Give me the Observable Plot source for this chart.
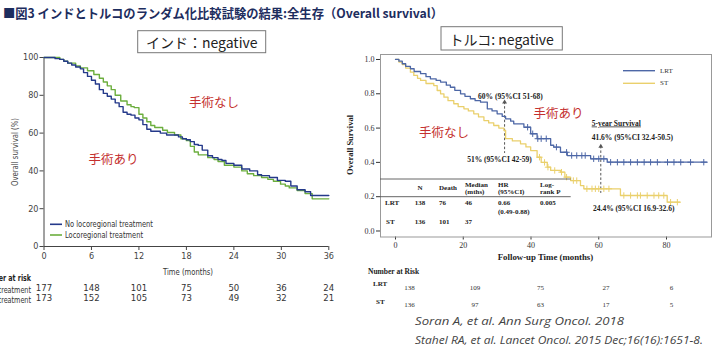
<!DOCTYPE html>
<html lang="ja"><head><meta charset="utf-8">
<script src="https://cdn.jsdelivr.net/npm/d3@7"></script>
<script src="https://cdn.jsdelivr.net/npm/@observablehq/plot@0.6"></script>
<style>
html,body{margin:0;padding:0;background:#fff;}
#wrap{position:relative;width:718px;height:357px;overflow:hidden;background:#fff;}
</style></head><body><div id="wrap"></div>
<script>
// ---------- India trial (left) ----------
const indiaSeries = ["No locoregional treatment", "Locoregional treatment"];
const indiaTicks = [0, 6, 12, 18, 24, 30, 36];
const indiaYTicks = [0, 20, 40, 60, 80, 100];
const indiaNoLrtTime = [0,1.4,2,2.5,3,3.5,4,4.6,5,5.5,6,6.5,7,7.5,8,8.5,9,9.5,10,10.5,11,11.5,12,12.5,13,13.5,14.7,15.5,17,17.5,18,18.5,19,19.5,20,20.7,21.3,22,22.5,23,24,25,26,27,27.5,28.5,29.5,30.5,31.2,32,33,33.7,36];
const indiaNoLrtSurv = [100,99.4,99,98,97,96,95,94,92,90,88,86,83,81,79.5,78,76,74,71,70,69.5,68,67,64.5,62,61,60,59,58,57,56.5,55.5,54,53.5,51,48,47,46,45.5,44,43,41,40,38,37.5,36.5,35,34.5,32,30,29,27,27];
const indiaLrtTime = [0,2,2.5,3,4,4.6,5.5,6.3,7,7.5,8,8.5,9,9.7,10.5,11,11.4,12,12.5,13,13.5,14,15,15.6,16.5,17.3,18,18.5,19,19.5,20.7,21.5,22,22.8,24,25,25.7,26.5,27.5,28.3,29,29.9,30.5,31,32,33,33.9,36];
const indiaLrtSurv = [100,99,98,97,95.5,94.5,93,91,89,87,85,83,80,77,75,74,73.5,70,68,66,64,63,61.5,60.3,59,57,56,53,50,48.5,47,46,45,43,42,40,38.5,37.5,36.5,35.5,34.5,33,32,31,29.6,28,25.2,25.2];
const indiaRiskMonths = [0, 6, 12, 18, 24, 30, 36];
const indiaRiskNoLrt = [177, 148, 101, 75, 50, 36, 24];
const indiaRiskLrt = [173, 152, 105, 73, 49, 32, 21];
const indiaNoteText = ["手術なし", "手術あり"];
const indiaNoteMonth = [21.5, 8.8];
const indiaNoteSurv = [75.8, 46];

// ---------- Turkey trial (right) ----------
const turkeySeries = ["LRT", "ST"];
const turkeyTicks = [0, 20, 40, 60, 80];
const turkeyYTicks = [0, 0.2, 0.4, 0.6, 0.8, 1.0];
const turkeyLrtTime = [0,1,2,3,4.4,5.5,7.4,9,10.3,12,13.3,15,16.2,17.5,19.2,20.5,22.1,23.5,25.1,27.1,28.5,30,31.5,32.5,34,34.9,37.9,39.9,41.8,45.8,46.7,48.7,50.7,57.6,62.5,92];
const turkeyLrtSurv = [1,0.99,0.975,0.96,0.946,0.93,0.917,0.9,0.887,0.878,0.868,0.85,0.838,0.82,0.80,0.785,0.771,0.76,0.751,0.712,0.70,0.683,0.668,0.654,0.64,0.625,0.605,0.567,0.538,0.50,0.489,0.459,0.44,0.421,0.401,0.401];
const turkeyStTime = [0,1,2,3,4.4,5.4,6.5,7.4,9,11.3,12.3,13.3,14.3,15.5,17.2,18.5,20.2,21.5,23.1,24.5,26.1,27.5,29,30.5,32,32.5,34.5,36.9,38.5,39.9,41.8,43,44.8,45.8,48.7,50,51.7,54.6,55.6,66.4,80.2,84];
const turkeyStSurv = [1,0.985,0.97,0.95,0.926,0.907,0.89,0.878,0.86,0.848,0.819,0.80,0.78,0.76,0.742,0.725,0.712,0.70,0.683,0.665,0.644,0.63,0.615,0.60,0.586,0.538,0.525,0.508,0.49,0.469,0.43,0.40,0.372,0.353,0.343,0.314,0.294,0.265,0.246,0.207,0.168,0.168];
const turkeyLrtCensor = [39,40.5,42,43,44.5,47.5,50.5,52,53.5,55,56,58.5,60,61.5,63.5,65.5,67.4,69.4,71.4,73.4,75.3,77.3,80.3,82.2,84.2,87.1,91];
const turkeyStCensor = [42.5,44,45,47,49,50.5,52.5,53.5,56.5,58,59,60,61.5,63,67.4,69.4,71.4,72.3,74.3,76.3,77.7,79.2,81.2,83.2];
const turkeyRiskMonths = [0, 20, 40, 60, 80];
const turkeyRiskLrt = [138, 109, 75, 27, 6];
const turkeyRiskSt = [136, 97, 63, 17, 5];
const turkeyTableHead = ["N", "Death", "Median\n(mths)", "HR\n(95%CI)", "Log-\nrank P"];
const turkeyTableLrt = ["138", "76", "46", "0.66\n(0.49-0.88)", "0.005"];
const turkeyTableSt = ["136", "101", "37", "", ""];
const turkeyCenterText = ["60% (95%CI 51-68)", "51% (95%CI 42-59)"];
const turkeyCenterMonth = [33.9, 30.7];
const turkeyCenterSurv = [0.786, 0.415];
const turkeyLeftText = ["5-year Survival", "41.6% (95%CI 32.4-50.5)", "24.4% (95%CI 16.9-32.6)"];
const turkeyLeftMonth = [57.9, 57.9, 58.3];
const turkeyLeftSurv = [0.629, 0.543, 0.133];
const turkeyArrowMonth = [32.2, 60.6];
const turkeyArrowTop = [0.751, 0.493];
const turkeyArrowBottom = [0.452, 0.219];
const turkeyNoteText = ["手術あり", "手術なし"];
const turkeyNoteMonth = [48.1, 14.3];
const turkeyNoteSurv = [0.683, 0.570];

const titleText = "■図3 インドとトルコのランダム化比較試験の結果:全生存（Overall survival）";
const citations = ["Soran A, et al. Ann Surg Oncol. 2018", "Stahel RA, et al. Lancet Oncol. 2015 Dec;16(16):1651-8."];

// ---------- helpers ----------
const SANS_N = "'Liberation Sans Narrow','DejaVu Sans Condensed','Liberation Sans',sans-serif";
const SERIF = "'Liberation Serif','DejaVu Serif',serif";
const JP = "'Noto Sans CJK JP','Noto Sans',sans-serif";
const BLUE_L = "#24398a", GREEN_L = "#6cae3e";
const BLUE_R = "#4d67a6", YEL_R = "#ead06c";
const RED = "#c4302e";

const toRows = (ts, ss) => ts.map((t, i) => ({t, s: ss[i]}));
const stepAt = (ts, ss, t) => { let v = ss[0]; for (let i = 0; i < ts.length; i++) if (ts[i] <= t) v = ss[i]; return v; };
const wrap = document.getElementById("wrap");
const place = (el, left, top) => { el.style.position = "absolute"; el.style.left = left + "px"; el.style.top = top + "px"; wrap.appendChild(el); return el; };

// ---------- left plot ----------
const leftPlot = Plot.plot({
  width: 360, height: 357,
  marginLeft: 43.5, marginRight: 31.7, marginTop: 57, marginBottom: 111,
  style: {background: "transparent", overflow: "visible", fontFamily: SANS_N, fontSize: "9px", color: "#444"},
  x: {domain: [0, 36], ticks: indiaTicks, tickSize: 4, tickPadding: 2, label: null},
  y: {domain: [0, 100], ticks: indiaYTicks, tickSize: 4, tickPadding: 1.5, label: null},
  marks: [
    Plot.ruleY([0], {stroke: "#444"}),
    Plot.ruleX([0], {stroke: "#444"}),
    Plot.line(toRows(indiaLrtTime, indiaLrtSurv), {x: "t", y: "s", curve: "step-after", stroke: GREEN_L, strokeWidth: 1.4}),
    Plot.line(toRows(indiaNoLrtTime, indiaNoLrtSurv), {x: "t", y: "s", curve: "step-after", stroke: BLUE_L, strokeWidth: 1.4}),
    Plot.text(indiaNoteText, {x: (d, i) => indiaNoteMonth[i], y: (d, i) => indiaNoteSurv[i], text: d => d, fill: RED, fontSize: 12.5, fontFamily: JP}),
    Plot.text(indiaRiskNoLrt, {x: (d, i) => indiaRiskMonths[i], text: d => String(d), frameAnchor: "bottom", dy: 44, fontSize: 9.5, fill: "#333"}),
    Plot.text(indiaRiskLrt, {x: (d, i) => indiaRiskMonths[i], text: d => String(d), frameAnchor: "bottom", dy: 54, fontSize: 9.5, fill: "#333"})
  ]
});
place(leftPlot, 0, 0);

// ---------- right plot ----------
const lrtRows = toRows(turkeyLrtTime, turkeyLrtSurv);
const stRows = toRows(turkeyStTime, turkeyStSurv);
const lrtCens = turkeyLrtCensor.map(t => ({t, s: stepAt(turkeyLrtTime, turkeyLrtSurv, t)}));
const stCens = turkeyStCensor.map(t => ({t, s: stepAt(turkeyStTime, turkeyStSurv, t)}));
const arrows = turkeyArrowMonth.map((t, i) => ({t, y1: turkeyArrowTop[i], y2: turkeyArrowBottom[i]}));

const rightPlot = Plot.plot({
  width: 378, height: 357,
  marginLeft: 40, marginRight: 7, marginTop: 54, marginBottom: 120.5,
  style: {background: "transparent", overflow: "visible", fontFamily: SERIF, fontSize: "8px", color: "#333"},
  x: {domain: [-4.43, 93.28], ticks: turkeyTicks, tickSize: 3, tickPadding: 2, label: null},
  y: {domain: [-0.035, 1.029], ticks: turkeyYTicks, tickSize: 4, tickPadding: 2, tickFormat: d3.format(".1f"), label: null},
  marks: [
    Plot.frame({stroke: "#999"}),
    Plot.ruleX(arrows, {x: "t", y1: "y1", y2: "y2", stroke: "#555", strokeDasharray: "2.5,2"}),
    Plot.dot(arrows, {x: "t", y: "y1", symbol: "triangle", r: 1.8, fill: "#555", stroke: "none"}),
    Plot.line(stRows, {x: "t", y: "s", curve: "step-after", stroke: YEL_R, strokeWidth: 1.3}),
    Plot.line(lrtRows, {x: "t", y: "s", curve: "step-after", stroke: BLUE_R, strokeWidth: 1.3}),
    Plot.dot(stCens, {x: "t", y: "s", symbol: "plus", r: 2.2, stroke: YEL_R, strokeWidth: 1}),
    Plot.dot(lrtCens, {x: "t", y: "s", symbol: "plus", r: 2.2, stroke: BLUE_R, strokeWidth: 1}),
    Plot.text(turkeyCenterText, {x: (d, i) => turkeyCenterMonth[i], y: (d, i) => turkeyCenterSurv[i], text: d => d, fontSize: 7.5, fontWeight: "bold", fill: "#222"}),
    Plot.text(turkeyLeftText, {x: (d, i) => turkeyLeftMonth[i], y: (d, i) => turkeyLeftSurv[i], text: d => d, textAnchor: "start", fontSize: 7.5, fontWeight: "bold", fill: "#222"}),
    Plot.text(turkeyNoteText, {x: (d, i) => turkeyNoteMonth[i], y: (d, i) => turkeyNoteSurv[i], text: d => d, fill: RED, fontSize: 12.5, fontFamily: JP})
  ]
});
d3.select(rightPlot).selectAll("text").filter(function () { return this.textContent === "5-year Survival"; }).style("text-decoration", "underline");
place(rightPlot, 340, 0);

// ---------- right at-risk table ----------
const riskPlot = Plot.plot({
  width: 358, height: 60,
  marginLeft: 49, marginRight: 47, marginTop: 0, marginBottom: 0,
  style: {background: "transparent", overflow: "visible", fontFamily: SERIF, fontSize: "7px", color: "#333"},
  x: {domain: [0, 80], axis: null},
  marks: [
    Plot.text(turkeyRiskLrt, {x: (d, i) => turkeyRiskMonths[i], text: d => String(d), frameAnchor: "top", dy: 22.3, fill: "#333"}),
    Plot.text(turkeyRiskSt, {x: (d, i) => turkeyRiskMonths[i], text: d => String(d), frameAnchor: "top", dy: 39.7, fill: "#333"})
  ]
});
place(riskPlot, 360, 262);

// ---------- overlay: titles, legends, labels, table ----------
const ov = d3.create("svg").attr("width", 718).attr("height", 357).style("pointer-events", "none");
place(ov.node(), 0, 0);
const T = (x, y, s, o = {}) => {
  const t = ov.append("text").attr("dominant-baseline", "central")
    .attr("font-family", o.ff || SERIF).attr("font-size", o.fs || 8).attr("fill", o.fill || "#222")
    .attr("text-anchor", o.anchor || "start").text(s);
  if (o.sx) t.attr("x", 0).attr("y", 0).attr("transform", `translate(${x},${y}) scale(${o.sx},1)`);
  else t.attr("x", x).attr("y", y);
  if (o.fw) t.attr("font-weight", o.fw);
  if (o.fst) t.attr("font-style", o.fst);
  if (o.len) t.attr("textLength", o.len).attr("lengthAdjust", "spacingAndGlyphs");
  if (o.rot) t.attr("transform", `rotate(-90 ${x} ${y})`);
  return t;
};
// main title
T(3, 12.5, titleText, {ff: JP, fs: 12.6, fw: "bold", fill: "#1d2d5e", len: 440});
// boxes
ov.append("rect").attr("x", 137.7).attr("y", 30.7).attr("width", 128).attr("height", 22).attr("fill", "#fff").attr("stroke", "#777");
T(201.7, 41.9, "インド：negative", {ff: JP, fs: 14, anchor: "middle", fill: "#222"});
ov.append("rect").attr("x", 441).attr("y", 26.7).attr("width", 121.3).attr("height", 23.3).attr("fill", "#fff").attr("stroke", "#777");
T(501.7, 38.5, "トルコ: negative", {ff: JP, fs: 14, anchor: "middle", fill: "#222"});
// left legend & labels
const legLen = [88, 78];
[[BLUE_L, 224.3], [GREEN_L, 235]].forEach(([c, y], i) => {
  ov.append("line").attr("x1", 50).attr("x2", 62).attr("y1", y).attr("y2", y).attr("stroke", c).attr("stroke-width", 1.6);
  T(65, y, indiaSeries[i], {ff: SANS_N, fs: 8.8, fill: "#333", len: legLen[i]});
});
T(15, 152, "Overall survival (%)", {ff: SANS_N, fs: 8.8, anchor: "middle", fill: "#444", rot: true, len: 68});
T(188, 271.7, "Time (months)", {ff: SANS_N, fs: 9.3, anchor: "middle", fill: "#333", len: 50});
T(31, 278, "Number at risk", {ff: SANS_N, fs: 9, anchor: "end", fw: "bold", fill: "#222", sx: 0.78});
T(31, 290, indiaSeries[0], {ff: SANS_N, fs: 9, anchor: "end", fill: "#333", sx: 0.8});
T(31, 300, indiaSeries[1], {ff: SANS_N, fs: 9, anchor: "end", fill: "#333", sx: 0.8});
// right legend & labels
[[BLUE_R, 70.7], [YEL_R, 83.3]].forEach(([c, y], i) => {
  ov.append("line").attr("x1", 623).attr("x2", 655).attr("y1", y).attr("y2", y).attr("stroke", c).attr("stroke-width", 1.4);
  T(660, y, turkeySeries[i], {fs: 7, fill: "#333"});
});
T(350, 145, "Overall Survival", {fs: 8.5, fw: "bold", anchor: "middle", rot: true});
T(545.5, 257, "Follow-up Time (months)", {fs: 8.8, fw: "bold", anchor: "middle"});
// inner table
[179, 196.7].forEach(y => ov.append("line").attr("x1", 380).attr("x2", 570.7).attr("y1", y).attr("y2", y).attr("stroke", "#555").attr("stroke-width", 0.9));
const colX = [420, 439, 465, 498, 540];
turkeyTableHead.forEach((h, i) => {
  const parts = h.split("\n");
  const anchor = i === 0 ? "middle" : "start";
  if (parts.length === 1) T(colX[i], 188.3, parts[0], {fs: 7, fw: "bold", anchor});
  else { T(colX[i], 185, parts[0], {fs: 7, fw: "bold", anchor}); T(colX[i], 192.3, parts[1], {fs: 7, fw: "bold", anchor}); }
});
T(385, 203.3, turkeySeries[0], {fs: 7, fw: "bold"});
T(386, 221.7, turkeySeries[1], {fs: 7, fw: "bold"});
[[turkeyTableLrt, 203.3], [turkeyTableSt, 221.7]].forEach(([row, y]) => {
  row.forEach((v, i) => {
    const parts = v.split("\n");
    const anchor = i === 0 ? "middle" : "start";
    parts.forEach((p, k) => { if (p) T(colX[i], y + k * 8.4, p, {fs: 7, fw: "bold", anchor}); });
  });
});
// right number at risk labels
T(368, 271, "Number at Risk", {fs: 7.5, fw: "bold"});
T(373, 284.3, turkeySeries[0], {fs: 7, fw: "bold"});
T(376, 301.7, turkeySeries[1], {fs: 7, fw: "bold"});
// citations
T(415, 320, citations[0], {ff: "'Open Sans',sans-serif", fs: 11, fst: "italic", fill: "#444", len: 209});
T(415, 339, citations[1], {ff: "'Open Sans',sans-serif", fs: 11, fst: "italic", fill: "#444", len: 288});
</script></body></html>
